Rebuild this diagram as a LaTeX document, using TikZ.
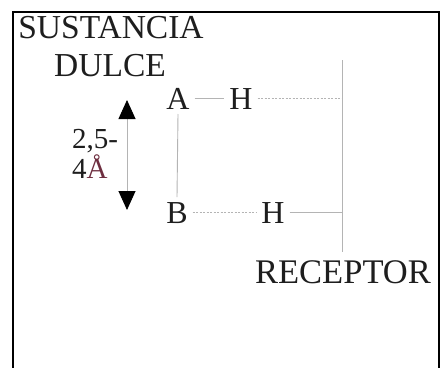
\documentclass[tikz,border=0pt]{standalone}
\usepackage{fontspec}
\setmainfont{Liberation Serif}
\usetikzlibrary{arrows.meta}
\definecolor{ink}{HTML}{1E1E1E}
\definecolor{ang}{HTML}{6E2E40}
\definecolor{lgray}{HTML}{B4B4B4}
\begin{document}
\begin{tikzpicture}[x=1pt,y=-1pt,
  lbl/.style={anchor=base,inner sep=0pt,text=ink,font=\fontsize{33.5}{36}\selectfont},
  dist/.style={anchor=base west,inner sep=0pt,text=ink,font=\fontsize{29}{32}\selectfont},
  atom/.style={anchor=base,inner sep=0pt,outer sep=5pt,text=ink,font=\fontsize{32}{34}\selectfont},
  bond/.style={draw=lgray,line width=0.9pt},
  hbond/.style={draw=lgray,line width=0.9pt,dash pattern=on 2pt off 1.5pt}]
\useasboundingbox (0,0) rectangle (441,367);
\fill[white] (0,0) rectangle (441,367);
\draw[line width=2.6pt,black] (13,368) -- (13,12) -- (439,12) -- (439,368);
% titles
\node[lbl] (sus) at (111,38) {SUSTANCIA};
\node[lbl] (dul) at (110,76) {DULCE};
\node[lbl,font=\fontsize{34.5}{36}\selectfont] (rec) at (343,283) {RECEPTOR};
% atoms
\node[atom] (A) at (178,109) {A};
\node[atom] (H1) at (241,109) {H};
\node[atom] (B) at (177,223) {B};
\node[atom] (H2) at (273,223) {H};
% receptor
\coordinate (rtop) at (342,60);
\coordinate (rbot) at (342,252);
\coordinate (r1) at (342,98);
\coordinate (r2) at (342,212);
\draw[bond] (rtop) -- (rbot);
\draw[bond] (A.east |- 0,98) -- (H1.west |- 0,98);
\draw[hbond] (H1.east |- 0,98) -- (r1);
\draw[bond] (A.south) -- (B.north);
\draw[hbond] (B.east |- 0,212) -- (H2.west |- 0,212);
\draw[bond] (H2.east |- 0,212) -- (r2);
% distance arrow
\coordinate (dtop) at (127,100);
\coordinate (dbot) at (127,210);
\draw[draw=lgray,line width=0.9pt,{Triangle[width=17pt,length=19pt,black]}-{Triangle[width=17pt,length=19pt,black]}] (dtop) -- (dbot);
\node[dist] (d1) at (72,148) {2,5-};
\node[dist] (d2) at (72,178) {4\textcolor{ang}{Å}};
\end{tikzpicture}
\end{document}
